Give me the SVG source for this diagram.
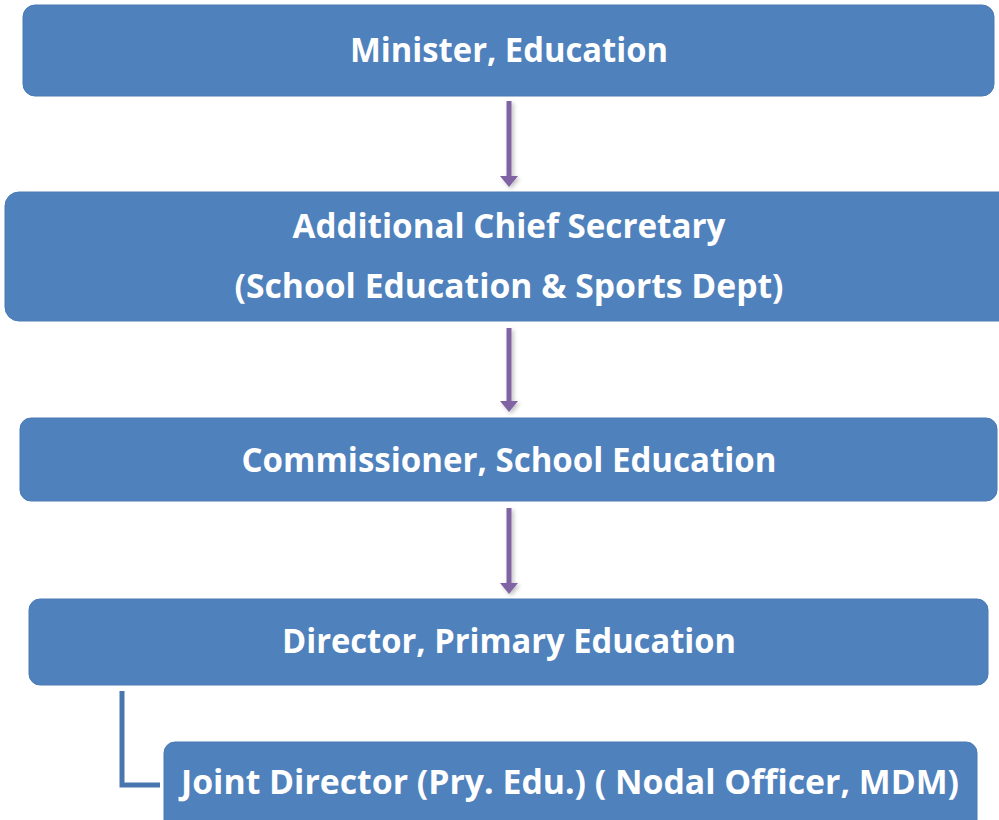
<svg xmlns="http://www.w3.org/2000/svg" width="999" height="820" viewBox="0 0 999 820">
  <defs>
    <style>
      .box { fill: #4F81BD; stroke: #4A7AB3; stroke-width: 1; }
      .label { fill: #FFFFFF; font-family: "Open Sans", "Liberation Sans", sans-serif; font-weight: bold; font-size: 34px; text-anchor: middle; }
      .arrow { stroke: #8064A2; stroke-width: 5; fill: none; }
      .head { fill: #8064A2; }
      .elbow { stroke: #4A76B0; stroke-width: 5; fill: none; }
    </style>
    <filter id="soft" x="-20%" y="-20%" width="140%" height="140%">
      <feDropShadow dx="2" dy="2" stdDeviation="2" flood-color="#000" flood-opacity="0.25"/>
    </filter>
  </defs>

  <rect width="999" height="820" fill="#FFFFFF"/>

  <!-- connectors -->
  <g id="connectors">
    <g filter="url(#soft)">
      <line class="arrow" x1="509" y1="101" x2="509" y2="178"/>
      <path class="head" d="M500,176 L518,176 L509,187 Z"/>
      <line class="arrow" x1="509" y1="328" x2="509" y2="403"/>
      <path class="head" d="M500,401 L518,401 L509,412 Z"/>
      <line class="arrow" x1="509" y1="508" x2="509" y2="585"/>
      <path class="head" d="M500,583 L518,583 L509,594 Z"/>
    </g>
    <path class="elbow" d="M122,691 L122,785 L160,785"/>
  </g>

  <!-- nodes -->
  <g id="minister">
    <rect class="box" x="23" y="5" width="971" height="91" rx="12"/>
    <text class="label" x="509" y="62" textLength="318" lengthAdjust="spacingAndGlyphs">Minister, Education</text>
  </g>

  <g id="acs">
    <rect class="box" x="5" y="192" width="1010" height="129" rx="14"/>
    <text class="label" x="509" y="238" textLength="433" lengthAdjust="spacingAndGlyphs">Additional Chief Secretary</text>
    <text class="label" x="509" y="298" textLength="549" lengthAdjust="spacingAndGlyphs">(School Education &amp; Sports Dept)</text>
  </g>

  <g id="commissioner">
    <rect class="box" x="20" y="418" width="977" height="83" rx="11"/>
    <text class="label" x="509" y="472" textLength="535" lengthAdjust="spacingAndGlyphs">Commissioner, School Education</text>
  </g>

  <g id="director">
    <rect class="box" x="29" y="599" width="959" height="86" rx="11"/>
    <text class="label" x="509" y="653" textLength="454" lengthAdjust="spacingAndGlyphs">Director, Primary Education</text>
  </g>

  <g id="joint-director">
    <rect class="box" x="164" y="742" width="813" height="100" rx="11"/>
    <text class="label" x="570" y="794" textLength="778" lengthAdjust="spacingAndGlyphs">Joint Director (Pry. Edu.) ( Nodal Officer, MDM)</text>
  </g>
</svg>
